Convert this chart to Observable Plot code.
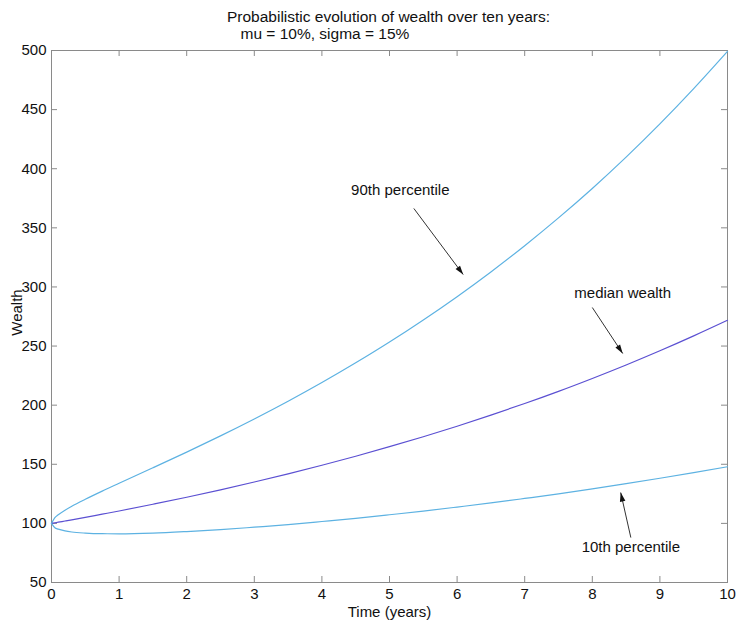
<!DOCTYPE html>
<html>
<head>
<meta charset="utf-8">
<script src="https://cdn.jsdelivr.net/npm/d3@7"></script>
<script src="https://cdn.jsdelivr.net/npm/@observablehq/plot@0.6"></script>
<style>
  html, body { margin: 0; padding: 0; background: #fff; }
</style>
</head>
<body>
<div id="chart"></div>
<script>
// ---- data ----
const years  = [0, 0.05, 0.1, 0.2, 0.3, 0.5, 0.75, 1, 1.5, 2, 2.5, 3, 3.5, 4, 4.5, 5, 5.5, 6, 6.5, 7, 7.5, 8, 8.5, 9, 9.5, 10];
const p90    = [100, 104.9, 107.3, 111.2, 114.5, 120.4, 127.3, 133.9, 147.0, 160.3, 174.0, 188.3, 203.3, 219.1, 235.8, 253.4, 272.1, 291.8, 312.7, 334.9, 358.4, 383.3, 409.8, 437.9, 467.7, 499.2];
const median = [100, 100.5, 101.0, 102.0, 103.0, 105.1, 107.8, 110.5, 116.2, 122.1, 128.4, 135.0, 141.9, 149.2, 156.8, 164.9, 173.3, 182.2, 191.6, 201.4, 211.7, 222.6, 234.0, 246.0, 258.6, 271.8];
const p10    = [100, 96.3, 95.1, 93.6, 92.7, 91.8, 91.3, 91.2, 91.8, 93.1, 94.7, 96.8, 99.0, 101.6, 104.3, 107.3, 110.4, 113.8, 117.3, 121.1, 125.0, 129.2, 133.6, 138.2, 143.0, 147.9];

const xTicks = [0, 1, 2, 3, 4, 5, 6, 7, 8, 9, 10];
const yTicks = [50, 100, 150, 200, 250, 300, 350, 400, 450, 500];

const titleLine1 = "Probabilistic evolution of wealth over ten years:";
const titleLine2 = "mu = 10%, sigma = 15%";
const xLabel = "Time (years)";
const yLabel = "Wealth";

// annotations (data coordinates)
const noteText = ["90th percentile", "median wealth", "10th percentile"];
const noteX    = [5.16, 8.45, 8.57];
const noteY    = [382, 294.5, 79.6];
const arrowX1  = [5.36, 8.0, 8.57];
const arrowY1  = [366.4, 282.6, 88];
const arrowX2  = [6.09, 8.45, 8.42];
const arrowY2  = [310.5, 243.7, 126.1];

// ---- build tables ----
const rows = years.flatMap((t, i) => [
  {t, v: p90[i], s: "p90"},
  {t, v: median[i], s: "median"},
  {t, v: p10[i], s: "p10"}
]);
const notes = noteText.map((text, i) => ({text, x: noteX[i], y: noteY[i], x1: arrowX1[i], y1: arrowY1[i], x2: arrowX2[i], y2: arrowY2[i]}));

const lineColor = {p90: "#5db2e2", median: "#5b50d2", p10: "#5db2e2"};
const frameColor = "#8a8a8a";

function filledArrow(color, context) {
  const m = d3.create("svg:marker")
    .attr("viewBox", "-10 -5 10 10")
    .attr("markerWidth", 10)
    .attr("markerHeight", 10)
    .attr("markerUnits", "userSpaceOnUse")
    .attr("orient", "auto")
    .attr("overflow", "visible")
    .attr("refX", 0)
    .attr("refY", 0);
  m.append("path").attr("d", "M-9,-2.8L0,0L-9,2.8Z").attr("fill", "#111").attr("stroke", "none");
  return m.node();
}

const W = 736, H = 626, mT = 50, mB = 44, mL = 51, mR = 9;
const fw = W - mL - mR, fh = H - mT - mB;
const tickLen = 6;

const chart = Plot.plot({
  width: W,
  height: H,
  marginTop: mT,
  marginBottom: mB,
  marginLeft: mL,
  marginRight: mR,
  style: {fontFamily: "'Liberation Sans', Arial, sans-serif", fontSize: "15px", color: "#111", background: "#fff"},
  x: {domain: [0, 10]},
  y: {domain: [50, 500]},
  marks: [
    // inward ticks on all four sides
    Plot.tickY(yTicks, {y: d => d, insetRight: fw - tickLen, stroke: frameColor}),
    Plot.tickY(yTicks, {y: d => d, insetLeft: fw - tickLen, stroke: frameColor}),
    Plot.tickX(xTicks, {x: d => d, insetTop: fh - tickLen, stroke: frameColor}),
    Plot.tickX(xTicks, {x: d => d, insetBottom: fh - tickLen, stroke: frameColor}),
    Plot.axisY(yTicks, {tickSize: 0, tickPadding: 5, label: null, fontSize: 15, fill: "#111"}),
    Plot.axisX(xTicks, {tickSize: 0, tickPadding: 6, label: null, fontSize: 15, fill: "#111"}),
    Plot.frame({stroke: frameColor}),
    Plot.line(rows, {x: "t", y: "v", z: "s", stroke: d => lineColor[d.s], strokeWidth: 1.2, curve: "monotone-x"}),
    Plot.link(notes, {x1: "x1", y1: "y1", x2: "x2", y2: "y2", stroke: "#333", strokeWidth: 1, markerEnd: filledArrow}),
    Plot.text(notes, {x: "x", y: "y", text: "text", fontSize: 15, fill: "#111"}),
    Plot.text([titleLine1], {text: d => d, frameAnchor: "top", textAnchor: "middle", lineAnchor: "middle", dx: -1, dy: -33, fontSize: 15.5, fill: "#111"}),
    Plot.text([titleLine2], {text: d => d, frameAnchor: "top-left", textAnchor: "start", lineAnchor: "middle", dx: 189, dy: -16, fontSize: 15.5, fill: "#111"}),
    Plot.text([xLabel], {text: d => d, frameAnchor: "bottom", textAnchor: "middle", lineAnchor: "middle", dy: 30, fontSize: 15, fill: "#111"}),
    Plot.text([yLabel], {text: d => d, frameAnchor: "left", textAnchor: "middle", lineAnchor: "middle", dx: -34, dy: -4, rotate: -90, fontSize: 15, fill: "#111"})
  ]
});
document.getElementById("chart").append(chart);
</script>
</body>
</html>
